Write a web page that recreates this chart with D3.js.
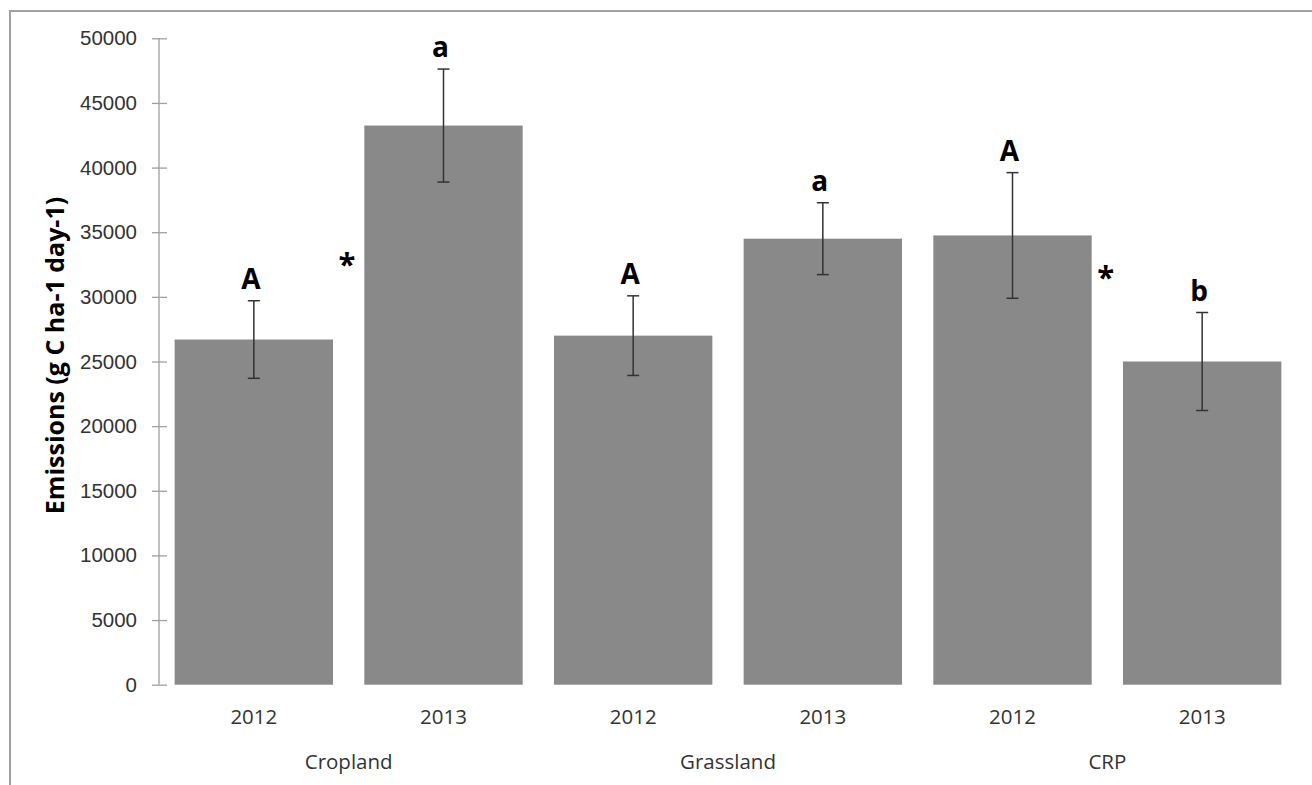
<!DOCTYPE html>
<html lang="en">
<head>
<meta charset="UTF-8">
<title>Emissions</title>
<script src="https://d3js.org/d3.v7.min.js"></script>
<style>
  body { margin: 0; background: #fff; }
  svg { display: block; font-family: 'Open Sans', sans-serif; }
  .tick text { fill: #333; font-size: 20.5px; }
  .axis path, .axis line { stroke: #a0a0a0; stroke-width: 1.3; }
</style>
</head>
<body>
<svg id="chart" width="1312" height="785"></svg>
<script>
// values
var groups = ["Cropland", "Grassland", "CRP"];
var years = ["2012", "2013", "2012", "2013", "2012", "2013"];
var means = [26700, 43250, 27000, 34500, 34750, 25000];
var errors = [3000, 4370, 3080, 2780, 4860, 3790];
var letters = ["A", "a", "A", "a", "A", "b"];
var starBars = [0, 4];
var starValues = [33100, 32100];
var yTicks = [0, 5000, 10000, 15000, 20000, 25000, 30000, 35000, 40000, 45000, 50000];

var svg = d3.select("#chart");

// frame (cut off at right and bottom like the original)
svg.append("rect")
    .attr("x", 10).attr("y", 11)
    .attr("width", 1320).attr("height", 800)
    .attr("fill", "none")
    .attr("stroke", "#a0a0a0")
    .attr("stroke-width", 2);

var idx = d3.range(means.length);

var x = d3.scaleBand()
    .domain(idx)
    .range([159, 1297])
    .paddingInner(0.165)
    .paddingOuter(0.0825);

var y = d3.scaleLinear()
    .domain([0, 50000])
    .range([684.7, 38.3]);

// y axis
var yAxis = svg.append("g")
    .attr("class", "axis")
    .attr("transform", "translate(159,0)")
    .call(d3.axisLeft(y).tickValues(yTicks).tickFormat(d3.format("d"))
        .tickSizeInner(-8).tickSizeOuter(0).tickPadding(22));
yAxis.selectAll(".tick line").attr("x1", -7).attr("x2", 8);
yAxis.select(".domain").attr("d", "M0," + y(0) + "V" + y(50000));

// bars
svg.selectAll(".bar")
    .data(idx)
    .enter().append("rect")
    .attr("class", "bar")
    .attr("x", function(i) { return x(i); })
    .attr("y", function(i) { return y(means[i]); })
    .attr("width", x.bandwidth())
    .attr("height", function(i) { return y(0) - y(means[i]); })
    .attr("fill", "#898989");

// error bars
var eb = svg.selectAll(".err")
    .data(idx)
    .enter().append("g")
    .attr("class", "err")
    .attr("stroke", "#333")
    .attr("stroke-width", 1.5);
eb.append("line")
    .attr("x1", function(i) { return x(i) + x.bandwidth() / 2; })
    .attr("x2", function(i) { return x(i) + x.bandwidth() / 2; })
    .attr("y1", function(i) { return y(means[i] + errors[i]); })
    .attr("y2", function(i) { return y(means[i] - errors[i]); });
[1, -1].forEach(function(s) {
    eb.append("line")
        .attr("x1", function(i) { return x(i) + x.bandwidth() / 2 - 6; })
        .attr("x2", function(i) { return x(i) + x.bandwidth() / 2 + 6; })
        .attr("y1", function(i) { return y(means[i] + s * errors[i]); })
        .attr("y2", function(i) { return y(means[i] + s * errors[i]); });
});

// significance letters
svg.selectAll(".letter")
    .data(idx)
    .enter().append("text")
    .attr("class", "letter")
    .attr("x", function(i) { return x(i) + x.bandwidth() / 2 - 3; })
    .attr("y", function(i) { return y(means[i] + errors[i]) - 12; })
    .attr("text-anchor", "middle")
    .style("font-size", "28px")
    .style("font-weight", "bold")
    .attr("fill", "#000")
    .text(function(i) { return letters[i]; });

// asterisks
svg.selectAll(".star")
    .data(starBars)
    .enter().append("text")
    .attr("class", "star")
    .attr("x", function(b) { return x(b) + x.bandwidth() + 14; })
    .attr("y", function(b, k) { return y(starValues[k]) + 18; })
    .attr("text-anchor", "middle")
    .style("font-size", "31px")
    .style("font-weight", "bold")
    .attr("fill", "#000")
    .text("*");

// year labels
svg.selectAll(".year")
    .data(idx)
    .enter().append("text")
    .attr("class", "year")
    .attr("x", function(i) { return x(i) + x.bandwidth() / 2; })
    .attr("y", 724)
    .attr("text-anchor", "middle")
    .style("font-size", "20.5px")
    .attr("fill", "#333")
    .text(function(i) { return years[i]; });

// group labels
svg.selectAll(".group")
    .data(groups)
    .enter().append("text")
    .attr("class", "group")
    .attr("x", function(g, k) { return (x(2 * k) + x(2 * k + 1) + x.bandwidth()) / 2; })
    .attr("y", 769)
    .attr("text-anchor", "middle")
    .style("font-size", "20.5px")
    .attr("fill", "#333")
    .text(function(g) { return g; });

// y title
svg.append("text")
    .attr("transform", "translate(64," + (y(25000) - 6) + ") rotate(-90)")
    .attr("text-anchor", "middle")
    .style("font-size", "25px")
    .style("font-weight", "bold")
    .attr("fill", "#000")
    .text("Emissions (g C ha-1 day-1)");
</script>
</body>
</html>
